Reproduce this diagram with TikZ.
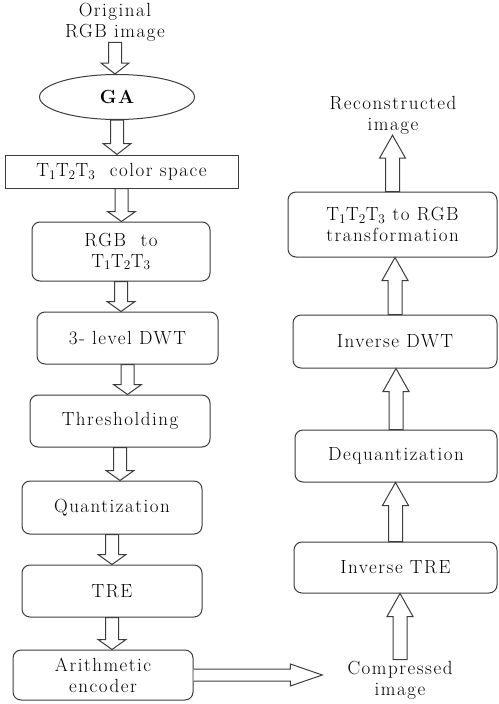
\documentclass[tikz,border=0pt]{standalone}
\usepackage{fontspec}
\setmainfont{Latin Modern Roman}[LetterSpace=8]
\usepackage{tikz}
\usetikzlibrary{calc,shapes.geometric}

\definecolor{linegray}{HTML}{3C3C3C}
\newcommand{\Tsp}{T\textsubscript{1}T\textsubscript{2}T\textsubscript{3}}

% hollow block arrows between two named nodes
\newcommand{\dnblk}[3]{%
 \draw[blk] let \p1=(#1.south), \p2=(#2.north) in
  (\x1-6.5pt,\y1) -- (\x1-6.5pt,\y2+#3) -- (\x1-14pt,\y2+#3) -- (\x1,\y2)
  -- (\x1+14pt,\y2+#3) -- (\x1+6.5pt,\y2+#3) -- (\x1+6.5pt,\y1) -- cycle;}
\newcommand{\upblk}[3]{%
 \draw[blk] let \p1=(#1.north), \p2=(#2.south) in
  (\x1-7pt,\y1) -- (\x1-7pt,\y2-#3) -- (\x1-13pt,\y2-#3) -- (\x1,\y2)
  -- (\x1+13pt,\y2-#3) -- (\x1+7pt,\y2-#3) -- (\x1+7pt,\y1) -- cycle;}

\tikzset{
 blk/.style={draw=linegray, line width=1pt, fill=white},
 proc/.style={draw=linegray, line width=1pt, rounded corners=8pt, align=center, inner sep=0pt},
 txt/.style={align=center, inner sep=1pt}
}

\begin{document}
\begin{tikzpicture}[x=1pt, y=-1pt, font=\fontsize{19}{21}\selectfont]
 \useasboundingbox (0,0) rectangle (498,704);

 \node[txt] (N0) at (115,22) {Original\\RGB image};
 \node[draw=linegray, line width=1pt, ellipse, minimum width=155pt, minimum height=45pt, inner sep=0pt] (N1) at (117,97) {\bfseries GA};
 \node[draw=linegray, line width=1pt, minimum width=233pt, minimum height=33pt, inner sep=0pt] (N2) at (121.5,171.5) {\Tsp{}\ \ color space};
 \node[proc, minimum width=178pt, minimum height=59pt] (N3) at (121,251.5) {RGB\ \ to\\ \Tsp};
 \node[proc, minimum width=181pt, minimum height=52pt] (N4) at (127.5,338) {3- level DWT};
 \node[proc, minimum width=180pt, minimum height=52pt] (N5) at (120,421) {Thresholding};
 \node[proc, minimum width=180pt, minimum height=53pt] (N6) at (112,507.5) {Quantization};
 \node[proc, minimum width=180pt, minimum height=52pt] (N7) at (112,591) {TRE};
 \node[proc, minimum width=180pt, minimum height=50pt] (N8) at (103,675) {Arithmetic\\encoder};

 \node[txt] (N9) at (400,680) {Compressed\\image};
 \node[proc, minimum width=203pt, minimum height=51pt] (N10) at (395.5,567.5) {Inverse TRE};
 \node[proc, minimum width=202pt, minimum height=52pt] (N11) at (396,456) {Dequantization};
 \node[proc, minimum width=204pt, minimum height=53pt] (N12) at (395,341.5) {Inverse DWT};
 \node[proc, minimum width=209pt, minimum height=65pt] (N13) at (392.5,224.5) {\Tsp{} to RGB\\transformation};
 \node[txt] (N14) at (393,115) {Reconstructed\\image};

 \dnblk{N0}{N1}{11pt}
 \dnblk{N1}{N2}{11pt}
 \dnblk{N2}{N3}{10pt}
 \dnblk{N3}{N4}{10pt}
 \dnblk{N4}{N5}{10pt}
 \dnblk{N5}{N6}{10pt}
 \dnblk{N6}{N7}{10pt}
 \dnblk{N7}{N8}{10pt}

 \draw[blk] let \p1=(N8.east), \p2=(N9.west) in
  (\x1,\y1-6pt) -- (\x2-56pt,\y1-6pt) -- (\x2-56pt,\y1-11pt) -- (\x2-24pt,\y1)
  -- (\x2-56pt,\y1+11pt) -- (\x2-56pt,\y1+6pt) -- (\x1,\y1+6pt);

 \upblk{N9}{N10}{23pt}
 \upblk{N10}{N11}{23pt}
 \upblk{N11}{N12}{23pt}
 \upblk{N12}{N13}{23pt}
 \upblk{N13}{N14}{23pt}
\end{tikzpicture}
\end{document}
